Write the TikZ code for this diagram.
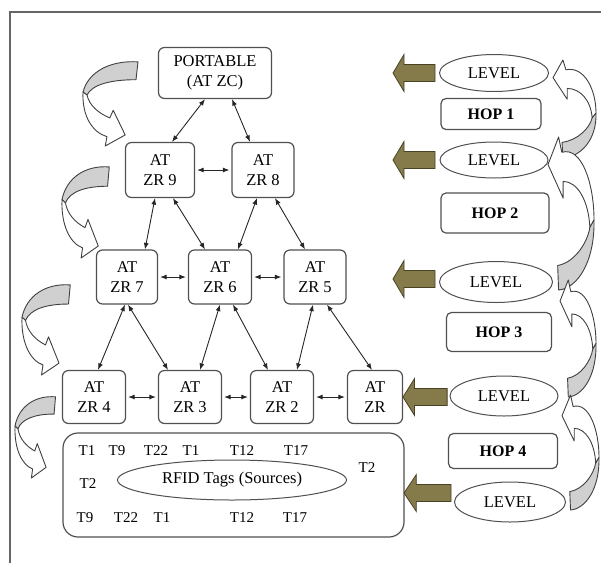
\documentclass[tikz,border=0pt]{standalone}
\usepackage{fontspec}
\setmainfont{Liberation Serif}
\usetikzlibrary{shapes.geometric, arrows, arrows.meta}

\definecolor{boxline}{RGB}{80,80,80}
\definecolor{olivefill}{RGB}{133,122,74}
\definecolor{oliveline}{RGB}{72,66,38}
\definecolor{bandgray}{RGB}{208,208,208}

\begin{document}
\begin{tikzpicture}[
    x=1pt, y=-1pt,
    >={Latex[length=6.5pt,width=5pt]},
    every node/.style={font=\fontsize{16.5}{19.5}\selectfont},
    zrbox/.style={draw=boxline, line width=1.2pt, rounded corners=6pt, fill=white, align=center, inner sep=0pt, minimum width=63pt, minimum height=54pt},
    hopbox/.style={draw=boxline, line width=1.2pt, rounded corners=5pt, fill=white, inner sep=0pt, font=\fontsize{16}{19}\selectfont\bfseries},
    levelell/.style={draw=boxline, line width=1pt, ellipse, fill=white, inner sep=0pt},
    tag/.style={font=\fontsize{15}{18}\selectfont, inner sep=0pt},
    link/.style={<->, line width=0.9pt, black!85},
    frame/.style={draw=black!60, line width=1.8pt},
    bandback/.style={draw=black!75, line width=0.9pt, fill=bandgray, line join=round},
    bandfront/.style={draw=black!75, line width=0.9pt, fill=white, line join=round},
    olivearrow/.style={draw=oliveline, line width=0.8pt, fill=olivefill},
    curvL/.pic={
      \path[bandback] (0.965,0.01) .. controls (0.47,-0.01) and (0.09,0.13) .. (0,0.365)
        -- (0.07,0.40) .. controls (0.16,0.28) and (0.47,0.22) .. (0.93,0.22) -- cycle;
      \path[bandfront] (0,0.365) .. controls (-0.02,0.64) and (0.16,0.84) .. (0.42,0.89)
        -- (0.39,1) -- (0.74,0.87) -- (0.53,0.58) -- (0.47,0.67)
        .. controls (0.26,0.61) and (0.11,0.52) .. (0.07,0.40) -- cycle;
    },
    curvR/.pic={
      \path[bandback] (1,0.54) .. controls (1.02,0.82) and (0.63,0.99) .. (0.23,1)
        -- (0.21,0.84) .. controls (0.58,0.82) and (0.86,0.69) .. (0.91,0.59) -- cycle;
      \path[bandfront] (0,0.18) -- (0.23,0) -- (0.30,0.10)
        .. controls (0.74,0.06) and (1,0.31) .. (1,0.54)
        -- (0.91,0.59) .. controls (0.88,0.41) and (0.63,0.29) .. (0.33,0.29)
        -- (0.33,0.40) -- cycle;
    },
    oarrow/.pic={
      \path[olivearrow] (0,0) -- (11,-18.5) -- (11,-8.5) -- (42,-8.5) -- (42,8.5)
        -- (11,8.5) -- (11,18.5) -- cycle;
    }
]
    \useasboundingbox (0,0) rectangle (601,563);
    \draw[frame] (10,563) -- (10,12) -- (601,12);

    % Tree of readers
    \node (port) [zrbox, minimum width=113pt, minimum height=51pt] at (215,73) {PORTABLE\\(AT ZC)};
    \node (zr9) [zrbox, minimum width=69pt, minimum height=55pt] at (160,170) {AT\\ZR 9};
    \node (zr8) [zrbox, minimum width=62pt, minimum height=55pt] at (263,170) {AT\\ZR 8};
    \node (zr7) [zrbox, minimum width=61pt] at (127,277) {AT\\ZR 7};
    \node (zr6) [zrbox] at (220,277) {AT\\ZR 6};
    \node (zr5) [zrbox, minimum width=62pt] at (315,277) {AT\\ZR 5};
    \node (zr4) [zrbox, minimum height=53pt] at (94,397) {AT\\ZR 4};
    \node (zr3) [zrbox, minimum height=53pt] at (190,397) {AT\\ZR 3};
    \node (zr2) [zrbox, minimum height=53pt] at (282,397) {AT\\ZR 2};
    \node (zr) [zrbox, minimum width=55pt, minimum height=53pt] at (375,397) {AT\\ZR};

    % Tags
    \node (tagbox) [zrbox, rounded corners=15pt, minimum width=341pt, minimum height=104pt] at (233.5,485) {};
    \node (rfid) [levelell, minimum width=229pt, minimum height=40pt] at (232,480) {RFID Tags (Sources)};
    \foreach \tx/\ty/\tl [count=\i] in {87/451/T1, 117/451/T9, 156/451/T22, 191/451/T1, 242/451/T12, 296/451/T17,
        88/484/T2, 367/468/T2, 85/518/T9, 126/518/T22, 162/518/T1, 242/518/T12, 295/518/T17}
      \node[tag] (tag\i) at (\tx,\ty) {\tl};

    % Levels and hops
    \node (lev1) [levelell, minimum width=109pt, minimum height=37pt] at (494,73) {LEVEL};
    \node (hop1) [hopbox, minimum width=100pt, minimum height=31pt] at (491,114) {HOP 1};
    \node (lev2) [levelell, minimum width=108pt, minimum height=36pt] at (494,160) {LEVEL};
    \node (hop2) [hopbox, minimum width=108pt, minimum height=40pt] at (495,213) {HOP 2};
    \node (lev3) [levelell, minimum width=113pt, minimum height=41pt] at (496,282) {LEVEL};
    \node (hop3) [hopbox, minimum width=105pt, minimum height=39pt] at (499,332) {HOP 3};
    \node (lev4) [levelell, minimum width=108pt, minimum height=40pt] at (504,396) {LEVEL};
    \node (hop4) [hopbox, minimum width=109pt, minimum height=35pt] at (503,451) {HOP 4};
    \node (lev5) [levelell, minimum width=111pt, minimum height=40pt] at (510,502) {LEVEL};

    % Links
    \draw[link] ([xshift=-10]port.south) -- ([xshift=12]zr9.north);
    \draw[link] ([xshift=17]port.south) -- ([xshift=-13]zr8.north);
    \draw[link, shorten <=2pt, shorten >=2pt] (zr9.east) -- (zr8.west);
    \draw[link] ([xshift=-5]zr9.south) -- ([xshift=18]zr7.north);
    \draw[link] ([xshift=13]zr9.south) -- ([xshift=-15]zr6.north);
    \draw[link] ([xshift=-6]zr8.south) -- ([xshift=18]zr6.north);
    \draw[link] ([xshift=12]zr8.south) -- ([xshift=-10]zr5.north);
    \draw[link, shorten <=2pt, shorten >=2pt] (zr7.east) -- (zr6.west);
    \draw[link, shorten <=2pt, shorten >=2pt] (zr6.east) -- (zr5.west);
    \draw[link] ([xshift=-2]zr7.south) -- ([xshift=4]zr4.north);
    \draw[link] ([xshift=1]zr7.south) -- ([xshift=-22]zr3.north);
    \draw[link] (zr6.south) -- ([xshift=10]zr3.north);
    \draw[link] ([xshift=13]zr6.south) -- ([xshift=-14]zr2.north);
    \draw[link] ([xshift=-2]zr5.south) -- ([xshift=15]zr2.north);
    \draw[link] ([xshift=12]zr5.south) -- ([xshift=-3]zr.north);
    \draw[link, shorten <=2pt, shorten >=2pt] (zr4.east) -- (zr3.west);
    \draw[link, shorten <=2pt, shorten >=2pt] (zr3.east) -- (zr2.west);
    \draw[link, shorten <=2pt, shorten >=2pt] (zr2.east) -- (zr.west);

    % Olive arrows
    \pic at (393,73) {oarrow};
    \pic at (393,160) {oarrow};
    \pic at (393,279) {oarrow};
    \pic[xscale=1.05] at (403,397) {oarrow};
    \pic[xscale=1.12] at (404,493) {oarrow};

    % Curved arrows, left
    \pic[xscale=57, yscale=85] at (83,61) {curvL};
    \pic[xscale=49, yscale=92] at (62,166) {curvL};
    \pic[xscale=50, yscale=91] at (22,284) {curvL};
    \pic[xscale=42, yscale=82] at (15,396) {curvL};

    % Curved arrows, right
    \pic[xscale=43, yscale=98] at (553,60) {curvR};
    \pic[xscale=46, yscale=153] at (548,137) {curvR};
    \pic[xscale=36, yscale=117] at (560,280) {curvR};
    \pic[xscale=37, yscale=115] at (562,395) {curvR};
\end{tikzpicture}
\end{document}
